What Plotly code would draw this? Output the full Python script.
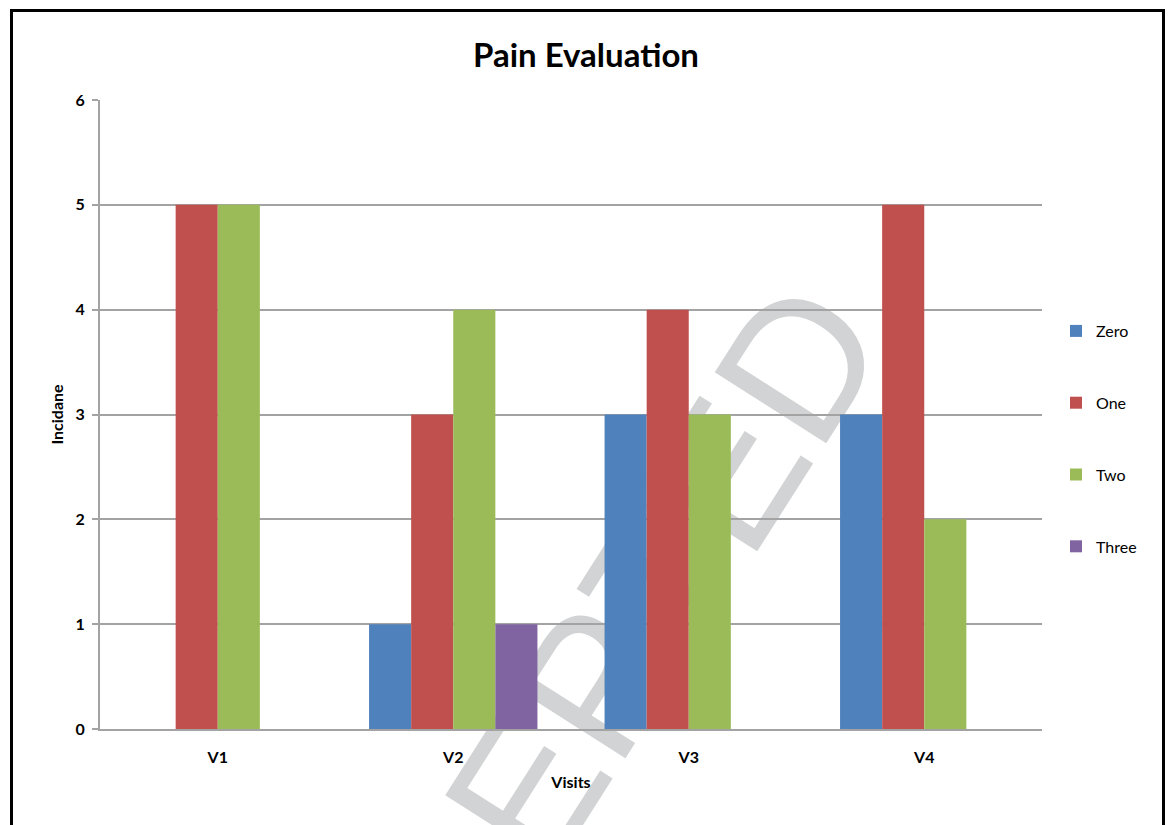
import plotly.graph_objects as go

# ---- data -------------------------------------------------------------
visits = ["V1", "V2", "V3", "V4"]
series_names = ["Zero", "One", "Two", "Three"]
zero_vals = [0, 1, 3, 3]
one_vals = [5, 3, 4, 5]
two_vals = [5, 4, 3, 2]
three_vals = [0, 1, 0, 0]
series_colors = ["#4F81BD", "#C0504D", "#9BBB59", "#8064A2"]
y_tick_vals = [0, 1, 2, 3, 4, 5, 6]

# ---- page geometry (pixels) -------------------------------------------
W, H = 1168, 825
ML, MR, MT, MB = 100, 126, 100, 96
PW, PH = W - ML - MR, H - MT - MB
Y_MAX = 6


def px_x(px):
    """page pixel x -> paper fraction"""
    return (px - ML) / PW


def px_y(py):
    """page pixel y -> paper fraction"""
    return (H - MB - py) / PH


FONT = "Lato"
GRID = "#A3A3A3"

fig = go.Figure()
for name, vals, col in zip(series_names,
                           [zero_vals, one_vals, two_vals, three_vals],
                           series_colors):
    fig.add_trace(go.Bar(
        x=visits, y=vals, name=name, legendgroup=name,
        marker=dict(color=col, line=dict(width=0)),
    ))

# stamp text centre (page pixels)
STAMP_CX, STAMP_CY = 540, 735

shapes = [
    # outer black frame
    dict(type="rect", xref="paper", yref="paper",
         x0=px_x(11.5), x1=px_x(1163.5), y0=px_y(845), y1=px_y(10.5),
         line=dict(color="black", width=3), fillcolor="rgba(0,0,0,0)",
         layer="above"),
    # stamp text drawn beneath the bars
    dict(type="rect", xref="paper", yref="paper",
         x0=px_x(STAMP_CX - 10), x1=px_x(STAMP_CX + 10),
         y0=px_y(STAMP_CY + 10), y1=px_y(STAMP_CY - 10),
         line=dict(width=0), fillcolor="rgba(0,0,0,0)", layer="below",
         label=dict(text="ACCEPTED", textangle=-57.5,
                    textposition="middle center",
                    font=dict(family="Liberation Sans", size=192,
                              color="#D1D3D4"))),
]

fig.update_layout(
    width=W, height=H,
    margin=dict(l=ML, r=MR, t=MT, b=MB, autoexpand=False),
    paper_bgcolor="white", plot_bgcolor="white",
    barmode="group", bargap=0.285, bargroupgap=0,
    font=dict(family=FONT, color="#000000"),
    title=dict(text="<b>Pain Evaluation</b>", x=586 / W,
               xanchor="center", y=1 - 55 / H, yanchor="middle",
               font=dict(family=FONT, size=33, color="#000000")),
    showlegend=True,
    legend=dict(x=px_x(1056), xanchor="left", y=px_y(314), yanchor="top",
                tracegroupgap=48, itemwidth=30,
                font=dict(family=FONT, size=16, color="#000000"),
                bgcolor="rgba(0,0,0,0)"),
    shapes=shapes,
)

fig.update_xaxes(
    type="category", categoryarray=visits,
    showline=True, linecolor=GRID, linewidth=2,
    showgrid=False, ticks="", ticklabelstandoff=13,
    tickfont=dict(family=FONT, size=16, color="#000000", weight="bold"),
    title=dict(text="<b>Visits</b>", standoff=12,
               font=dict(family=FONT, size=16, color="#000000")),
)
fig.update_yaxes(
    range=[0, Y_MAX], tickvals=y_tick_vals,
    showline=True, linecolor=GRID, linewidth=2,
    showgrid=True, gridcolor=GRID, gridwidth=2, zeroline=False,
    ticks="outside", ticklen=6, tickcolor=GRID, tickwidth=2,
    ticklabelstandoff=4,
    tickfont=dict(family=FONT, size=16, color="#000000", weight="bold"),
    title=dict(text="<b>Incidane</b>", standoff=8,
               font=dict(family=FONT, size=16, color="#000000")),
)

fig.write_html("out.html")
